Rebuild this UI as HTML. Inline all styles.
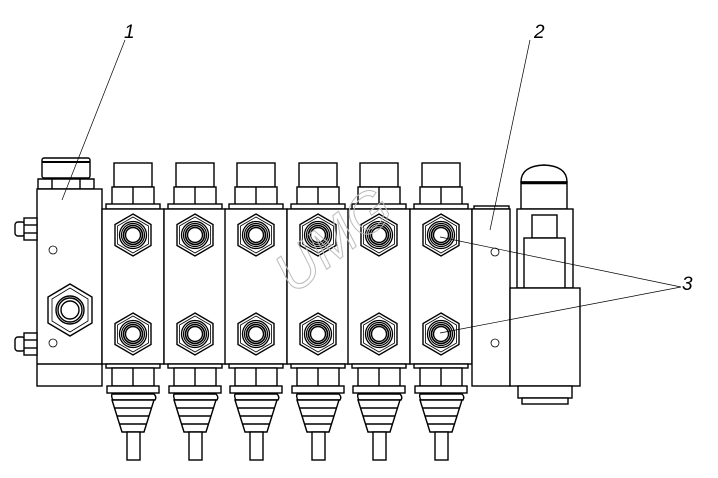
<!DOCTYPE html>
<html><head><meta charset="utf-8"><style>
html,body{margin:0;padding:0;background:#fff;}
svg{display:block;}
text{font-family:"Liberation Sans",sans-serif;font-style:italic;}
</style></head><body>
<svg width="718" height="478" viewBox="0 0 718 478" xmlns="http://www.w3.org/2000/svg">
<defs>
<g id="port">
  <polygon points="0,-21 18,-10.5 18,10.5 0,21 -18,10.5 -18,-10.5" fill="#fff" stroke="#000" stroke-width="1.4"/>
  <polygon points="0,-18 15.5,-9 15.5,9 0,18 -15.5,9 -15.5,-9" fill="none" stroke="#000" stroke-width="0.8"/>
  <circle r="13.5" fill="none" stroke="#000" stroke-width="1.3"/>
  <circle r="11.5" fill="none" stroke="#000" stroke-width="1.2"/>
  <circle r="9.5" fill="none" stroke="#000" stroke-width="1.6"/>
  <circle r="7.5" fill="#fff" stroke="#000" stroke-width="1.4"/>
</g>
<g id="sec" fill="#fff" stroke="#000" stroke-width="1.4">
  <!-- top cap -->
  <rect x="12" y="163" width="38" height="24"/>
  <rect x="10" y="187" width="42" height="18"/>
  <line x1="31" y1="187" x2="31" y2="205"/>
  <rect x="4" y="204" width="54" height="5"/>
  <!-- body -->
  <rect x="0" y="209" width="62" height="155"/>
  <use href="#port" x="31" y="235"/>
  <use href="#port" x="31" y="334"/>
  <!-- bottom -->
  <rect x="4" y="364" width="54" height="4"/>
  <rect x="10" y="368" width="42" height="18"/>
  <line x1="31" y1="368" x2="31" y2="386"/>
  <rect x="5" y="386" width="52" height="7"/>
  <path d="M10,394 Q9,397 11,400 L53,400 Q55,397 52,394 Z"/>
  <path d="M10,400 L20,432 L42,432 L52,400 Z"/>
  <line x1="13" y1="408" x2="49" y2="408"/>
  <line x1="15" y1="416" x2="47" y2="416"/>
  <line x1="18" y1="424" x2="44" y2="424"/>
  <rect x="25" y="432" width="13" height="28"/>
</g>
</defs>

<!-- inlet block -->
<g fill="#fff" stroke="#000" stroke-width="1.4">
  <rect x="42" y="158" width="48" height="20" rx="2"/>
  <line x1="42" y1="162" x2="90" y2="162" stroke-width="2"/>
  <path d="M38,179 h56 v10 h-56 z"/>
  <line x1="52" y1="179" x2="52" y2="189"/><line x1="80" y1="179" x2="80" y2="189"/>
  <rect x="37" y="189" width="65" height="197"/>
  <line x1="37" y1="364" x2="102" y2="364"/>
  <polygon points="70,284 92,297 92,323 70,336 48,323 48,297"/>
  <polygon points="70,288 88,299 88,321 70,332 52,321 52,299" fill="none" stroke-width="0.8"/>
  <circle cx="70" cy="310" r="14"/>
  <circle cx="70" cy="310" r="12" fill="none"/>
  <circle cx="70" cy="310" r="9"/>
  <!-- fittings -->
  <rect x="15" y="222" width="10" height="14" rx="3"/>
  <rect x="24" y="218" width="13" height="22"/>
  <line x1="24" y1="225" x2="37" y2="225"/><line x1="24" y1="233" x2="37" y2="233"/>
  <rect x="15" y="337" width="10" height="14" rx="3"/>
  <rect x="24" y="333" width="13" height="22"/>
  <line x1="24" y1="340" x2="37" y2="340"/><line x1="24" y1="348" x2="37" y2="348"/>
  <circle cx="53" cy="250" r="4" stroke-width="0.8"/>
  <circle cx="53" cy="343" r="4" stroke-width="0.8"/>
</g>

<use href="#sec" x="102"/>
<use href="#sec" x="164"/>
<use href="#sec" x="225"/>
<use href="#sec" x="287"/>
<use href="#sec" x="348"/>
<use href="#sec" x="410"/>

<!-- end plate & solenoid -->
<g fill="#fff" stroke="#000" stroke-width="1.4">
  <rect x="474" y="206" width="35" height="3"/>
  <rect x="472" y="209" width="38" height="177"/>
  <circle cx="495" cy="252" r="4" stroke-width="0.8"/>
  <circle cx="495" cy="343" r="4" stroke-width="0.8"/>
  <path d="M521,182 Q521,166 544,165 Q567,166 567,182 Z"/>
  <rect x="521" y="182" width="46" height="27"/>
  <line x1="521" y1="183" x2="567" y2="183" stroke-width="2.5"/>
  <rect x="517" y="209" width="56" height="79"/>
  <rect x="532" y="215" width="25" height="23"/>
  <rect x="524" y="238" width="41" height="50"/>
  <rect x="510" y="288" width="70" height="98"/>
  <rect x="518" y="386" width="54" height="12"/>
  <rect x="522" y="398" width="46" height="6"/>
</g>

<!-- watermark -->
<text x="0" y="0" transform="translate(345,255) rotate(-38)" font-size="56" font-style="normal" fill="none" stroke="#bbb" stroke-width="1" text-anchor="middle">UMG</text>

<!-- leaders -->
<g stroke="#000" stroke-width="0.7" fill="none">
  <line x1="125" y1="40" x2="62" y2="200"/>
  <line x1="530" y1="40" x2="490" y2="230"/>
  <line x1="681" y1="287" x2="440" y2="237"/>
  <line x1="681" y1="287" x2="440" y2="333"/>
</g>
<text x="124" y="38" font-size="19">1</text>
<text x="534" y="38" font-size="19">2</text>
<text x="682" y="290" font-size="19">3</text>
</svg>
</body></html>
